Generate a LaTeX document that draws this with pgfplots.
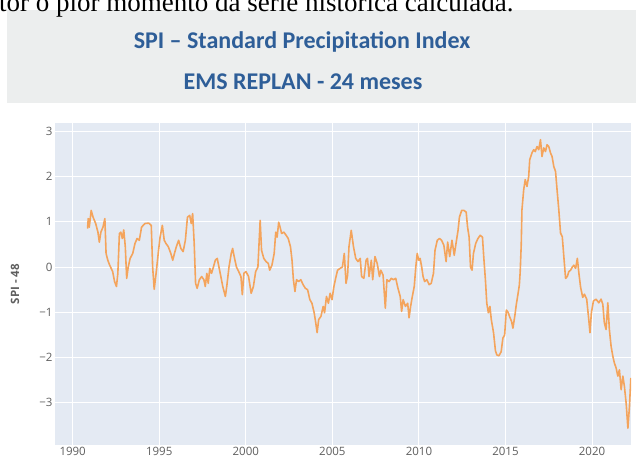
\documentclass[border=0pt]{standalone}
\usepackage{pgfplots}
\pgfplotsset{compat=1.18}
\usepackage{fontspec}
\setmainfont{Open Sans}
\newfontfamily\titlefont{Carlito}
\newfontfamily\serif{Liberation Serif}
\definecolor{plotbg}{RGB}{228,234,243}
\definecolor{spi}{RGB}{244,164,92}
\definecolor{titleblue}{RGB}{46,94,152}
\definecolor{slidegrey}{RGB}{236,238,238}
\definecolor{ticklab}{RGB}{95,95,95}
\begin{document}
\begin{tikzpicture}[x=1pt,y=1pt]
\useasboundingbox (0,0) rectangle (636,464);
\fill[slidegrey] (7,361) rectangle (636,454);
\node[anchor=base west, inner sep=0pt, font=\serif\fontsize{27}{29}\selectfont] at (-1,452.5) {tor o pior momento da série histórica calculada.};
\node[anchor=base, inner sep=0pt, text=titleblue, font=\titlefont\bfseries\fontsize{24}{28}\selectfont] at (302,415) {SPI – Standard Precipitation Index};
\node[anchor=base, inner sep=0pt, text=titleblue, font=\titlefont\bfseries\fontsize{24}{28}\selectfont] at (303,374) {EMS REPLAN - 24 meses};
\begin{axis}[
  at={(55pt,19pt)}, anchor=south west,
  width=576pt, height=322pt, scale only axis,
  xmin=1988.98, xmax=2022.25, ymin=-3.93, ymax=3.18,
  axis line style={draw=none},
  axis background/.style={fill=plotbg},
  major tick length=0pt,
  grid=major, grid style={white, line width=1pt},
  xtick={1990,1995,2000,2005,2010,2015,2020},
  xticklabels={1990,1995,2000,2005,2010,2015,2020},
  ytick={-3,-2,-1,0,1,2,3},
  yticklabels={−3,−2,−1,0,1,2,3},
  tick label style={font=\fontsize{11.5}{13}\selectfont, text=ticklab},
  xticklabel style={yshift=1pt},
  yticklabel style={xshift=1pt},
  ylabel={SPI - 48},
  every axis y label/.style={at={(axis description cs:-0.0694,0.5)}, rotate=90, anchor=center, font=\bfseries\fontsize{11.5}{13}\selectfont, text=ticklab},
]
\addplot[spi, line width=1.6pt, no markers, line join=round] table {
1990.86 0.85
1990.90 1.07
1990.96 0.88
1991.07 1.25
1991.18 1.10
1991.33 0.96
1991.46 0.77
1991.54 0.55
1991.63 0.77
1991.75 0.88
1991.86 1.07
1991.93 0.30
1992.03 0.15
1992.14 0.04
1992.31 -0.10
1992.42 -0.32
1992.53 -0.43
1992.61 -0.14
1992.70 0.74
1992.78 0.77
1992.87 0.63
1992.95 0.82
1993.04 0.45
1993.12 -0.25
1993.21 0.0
1993.32 0.19
1993.47 0.30
1993.60 0.52
1993.72 0.63
1993.85 0.59
1993.98 0.88
1994.17 0.96
1994.39 0.97
1994.54 0.92
1994.62 0.0
1994.71 -0.49
1994.84 -0.07
1994.96 0.37
1995.05 0.66
1995.18 0.92
1995.29 0.59
1995.39 0.52
1995.52 0.45
1995.67 0.30
1995.78 0.15
1995.88 0.30
1995.99 0.45
1996.12 0.59
1996.25 0.41
1996.38 0.34
1996.51 0.59
1996.63 1.10
1996.76 1.14
1996.85 0.96
1996.93 1.18
1997.02 0.52
1997.10 -0.36
1997.19 -0.47
1997.32 -0.28
1997.45 -0.21
1997.58 -0.28
1997.66 -0.43
1997.75 -0.14
1997.83 -0.36
1997.92 -0.03
1998.02 -0.14
1998.13 0.0
1998.24 0.15
1998.35 0.19
1998.45 0.0
1998.56 -0.21
1998.67 -0.43
1998.82 -0.65
1998.90 -0.43
1999.03 0.0
1999.16 0.30
1999.24 0.41
1999.33 0.23
1999.46 0.0
1999.59 -0.10
1999.72 -0.21
1999.80 -0.61
1999.89 -0.14
2000.01 -0.10
2000.16 -0.21
2000.31 -0.58
2000.44 -0.43
2000.57 -0.10
2000.70 0.0
2000.83 1.03
2000.91 0.37
2001.04 0.19
2001.17 0.12
2001.30 0.08
2001.38 -0.07
2001.51 0.04
2001.64 0.30
2001.73 0.77
2001.81 0.66
2001.90 0.99
2001.98 0.88
2002.07 0.74
2002.20 0.77
2002.33 0.70
2002.45 0.63
2002.58 0.45
2002.67 0.15
2002.75 -0.28
2002.84 -0.54
2002.93 -0.28
2003.05 -0.32
2003.18 -0.28
2003.31 -0.39
2003.44 -0.47
2003.57 -0.50
2003.70 -0.72
2003.82 -0.80
2003.95 -1.01
2004.04 -1.23
2004.12 -1.45
2004.21 -1.16
2004.34 -1.09
2004.47 -0.87
2004.55 -1.01
2004.66 -0.65
2004.77 -0.80
2004.87 -0.58
2004.98 -0.72
2005.09 -0.43
2005.19 -0.25
2005.30 -0.07
2005.45 -0.03
2005.58 0.0
2005.69 0.30
2005.79 -0.36
2005.88 -0.18
2005.96 0.45
2006.09 0.81
2006.22 0.45
2006.35 0.19
2006.48 0.12
2006.61 0.19
2006.69 -0.21
2006.82 -0.25
2006.95 0.15
2007.03 0.19
2007.12 -0.21
2007.25 0.15
2007.33 -0.28
2007.46 0.23
2007.59 0.08
2007.72 -0.21
2007.80 -0.07
2007.93 -0.18
2008.06 -0.91
2008.15 -0.28
2008.28 -0.32
2008.40 -0.25
2008.53 -0.28
2008.66 -0.25
2008.79 -0.47
2008.92 -0.65
2009.00 -0.98
2009.09 -0.72
2009.22 -0.87
2009.35 -0.80
2009.43 -1.12
2009.52 -0.87
2009.60 -0.69
2009.73 -0.43
2009.82 0.0
2009.90 0.30
2009.99 0.15
2010.07 0.19
2010.16 0.0
2010.24 -0.21
2010.33 -0.32
2010.46 -0.28
2010.59 -0.39
2010.71 -0.36
2010.84 -0.14
2010.93 0.37
2011.06 0.59
2011.19 0.63
2011.31 0.59
2011.44 0.48
2011.57 0.12
2011.66 0.55
2011.78 0.23
2011.91 0.59
2012.04 0.26
2012.17 0.59
2012.26 0.81
2012.34 1.10
2012.47 1.25
2012.60 1.25
2012.73 1.21
2012.81 0.88
2012.90 0.66
2012.98 0.0
2013.07 -0.07
2013.15 0.30
2013.28 0.52
2013.41 0.63
2013.54 0.70
2013.67 0.66
2013.75 0.19
2013.84 -0.28
2013.92 -0.80
2014.01 -1.01
2014.10 -0.87
2014.18 -1.16
2014.31 -1.45
2014.42 -1.85
2014.50 -1.94
2014.62 -1.96
2014.75 -1.87
2014.85 -1.57
2014.95 -1.50
2015.05 -0.95
2015.15 -1.00
2015.24 -1.10
2015.35 -1.20
2015.43 -1.35
2015.55 -1.05
2015.62 -0.84
2015.72 -0.60
2015.80 -0.40
2015.85 -0.10
2015.91 0.50
2015.95 1.26
2016.05 1.70
2016.14 1.93
2016.24 1.78
2016.34 2.00
2016.40 2.37
2016.53 2.52
2016.63 2.59
2016.72 2.55
2016.82 2.66
2016.92 2.59
2017.02 2.81
2017.11 2.44
2017.21 2.63
2017.31 2.55
2017.40 2.70
2017.50 2.66
2017.60 2.52
2017.69 2.44
2017.79 2.22
2017.89 2.11
2017.98 1.70
2018.08 1.26
2018.18 0.75
2018.28 0.67
2018.37 0.23
2018.47 -0.25
2018.57 -0.21
2018.66 -0.10
2018.76 -0.07
2018.86 0.0
2018.95 0.04
2019.05 -0.03
2019.15 0.19
2019.24 -0.14
2019.34 -0.45
2019.46 -0.67
2019.56 -0.60
2019.69 -0.71
2019.81 -1.16
2019.88 -1.45
2019.96 -1.01
2020.08 -0.75
2020.23 -0.71
2020.39 -0.79
2020.52 -0.71
2020.62 -0.82
2020.71 -1.23
2020.81 -1.38
2020.91 -0.79
2021.00 -1.38
2021.10 -1.75
2021.20 -1.97
2021.29 -2.12
2021.39 -2.23
2021.49 -2.41
2021.58 -2.27
2021.68 -2.71
2021.78 -2.41
2021.87 -2.64
2021.97 -3.01
2022.07 -3.56
2022.16 -3.08
2022.24 -2.45
};
\end{axis}
\end{tikzpicture}
\end{document}
